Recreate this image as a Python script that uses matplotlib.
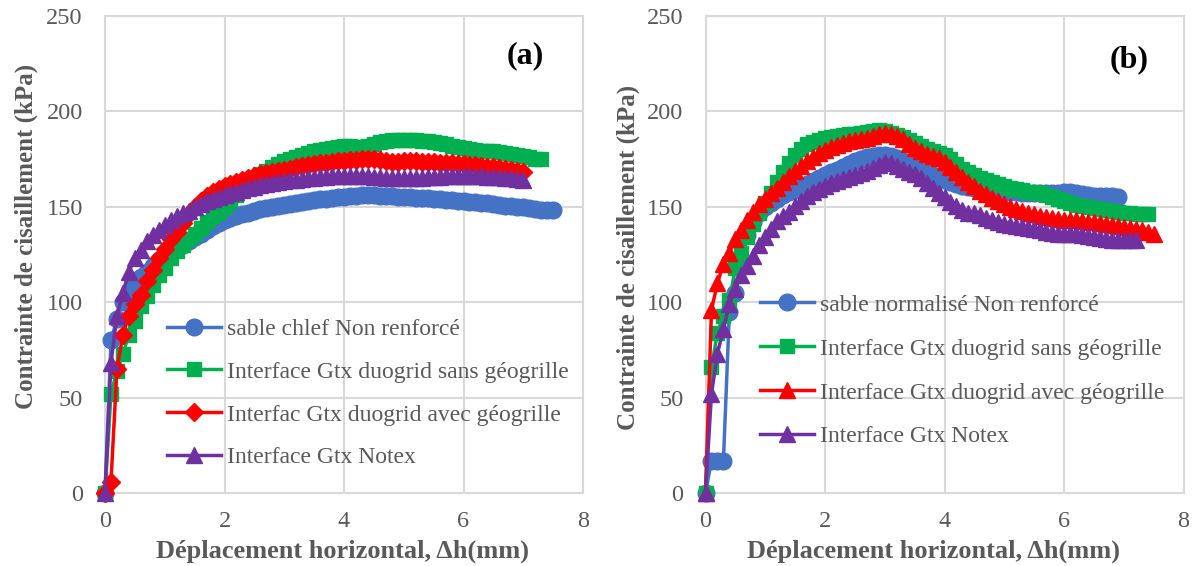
import numpy as np
import matplotlib
matplotlib.use("Agg")
import matplotlib.pyplot as plt

plt.rcParams['font.family'] = ['Liberation Serif', 'DejaVu Serif']

# ---------------- data: shear stress (kPa) vs horizontal displacement (mm), step 0.1 mm
STEP = 0.1

# (a) sable de Chlef
a_blue = [0, 80, 91, 100, 106, 110, 113, 116, 119, 122, 124, 126, 128, 130, 132, 134, 136, 138, 140, 141.5,
          143, 144, 145, 146, 147, 148, 149, 149.5, 150, 150.5, 151, 151.5, 152, 152.5, 153, 153.5, 154, 154,
          154.5, 155, 155, 155.5, 155.5, 156, 156, 156, 155.5, 155.5, 155.5, 155, 155, 155, 154.5, 154.5,
          154.5, 154, 154, 153.5, 153.5, 153, 153, 152.5, 152.5, 152, 152, 151.5, 151, 150.5, 150.5, 150,
          150, 149.5, 149, 148.5, 148.5, 148.5]
a_green = [0, 52, 64, 73, 83, 90, 98, 103, 109, 114, 118, 123, 127, 130, 133, 136, 139, 142, 145, 147.5,
           150, 153, 156, 159, 162, 165, 167, 169, 171, 172.5, 174, 175, 176, 177, 178, 179, 180, 180.5, 181,
           181.5, 182, 182, 181.5, 181.5, 182, 183, 184, 184.5, 185, 185, 185, 185, 185, 184.5, 184.5, 184,
           183.5, 183, 182, 181.5, 181, 180.5, 180, 179.5, 179, 179, 178.5, 178, 177.5, 177, 176.5, 176, 175,
           175]
a_red = [0, 6, 65, 83, 93, 99, 104, 111, 117, 123, 128, 133, 137, 141.5, 146, 150, 153, 155.5, 157.5, 159.5,
         161, 162, 163, 164, 165, 166, 167, 167.5, 168, 169, 169.5, 170, 171, 171.5, 172, 172.5, 173, 173,
         173.5, 174, 174, 174.5, 174.5, 175, 175, 175, 174.5, 174, 173.5, 173.5, 174, 174, 174, 173.5, 173.5,
         173.5, 173, 173, 173, 172.5, 172.5, 172, 172, 171.5, 171, 171, 170.5, 170, 169.5, 169, 168.5]
a_purple = [0, 68, 93, 105, 116, 123, 127.5, 132, 135, 138, 140.5, 143, 145, 146.5, 148, 150, 151.5, 153, 154,
            155, 156, 157, 158, 159, 160, 160.5, 161.5, 162, 162.5, 163, 163.5, 164, 164, 164.5, 165, 165,
            165.5, 165.5, 166, 166, 166, 166, 166, 166, 166, 165.5, 165.5, 165, 165, 165, 165, 165, 165, 165,
            165.5, 165.5, 165.5, 166, 166, 166, 166, 166, 166, 166, 165.5, 165.5, 165.5, 165, 165, 164.5, 164]

# (b) sable normalisé
b_blue = [0, 17, 17, 17, 95, 105, 120, 135, 142, 147, 150, 152, 154, 156, 157.5, 159, 160.5, 162, 163.5, 165,
          166.5, 168, 169.5, 171, 172.5, 174, 175, 176, 176.5, 177, 177, 176.5, 175.5, 174, 172.5, 171, 169.5,
          168, 166.5, 165, 164, 163, 162, 161, 160.5, 160, 159.5, 159, 158.5, 158, 158, 157.5, 157.5, 157, 157,
          157, 157, 157, 157, 157, 157.5, 157.5, 157, 156.5, 156, 155.5, 155.5, 155.5, 155.5, 155]
b_green = [0, 66, 84, 93, 101, 118, 126, 134, 141, 147, 152, 157, 163, 168, 173, 177, 180.5, 183, 184, 185,
           186, 186.5, 187, 187.5, 188, 188, 188.5, 189, 189.5, 190, 189.5, 188.5, 187.5, 186.5, 185, 183.5,
           182, 180.5, 179, 178, 177, 175, 172.5, 170, 168, 166.5, 165, 164, 163, 162, 161, 160, 159.5, 159,
           158, 157.5, 157, 156, 155, 154, 153, 152, 151, 150.5, 150, 149.5, 149, 148.5, 148, 147.5, 147,
           146.5, 146, 146, 146]
b_red = [0, 96, 110, 120, 126, 133, 138, 143, 147.5, 151.5, 154, 157, 160, 163, 166, 169, 171.5, 174, 176, 178,
         180, 181.5, 182.5, 183.5, 184.5, 185, 185.5, 186, 187, 188, 188.5, 188, 187, 185.5, 183, 181, 179,
         177.5, 176.5, 175.5, 173.5, 171, 168, 165.5, 163, 161, 158.5, 156.5, 154.5, 153, 151.5, 150, 149,
         148, 147, 146, 145, 144.5, 144, 143.5, 143, 143, 143, 142.5, 142, 142, 141.5, 141, 140.5, 140, 139.5,
         139, 138.5, 138, 137, 136]
b_purple = [0, 52, 73, 86, 99, 107, 114, 119, 124, 130, 134, 138.5, 142.5, 145, 147.5, 150.5, 153, 155.5,
            157.5, 159.5, 161, 162.5, 163.5, 164.5, 165.5, 166.5, 167.5, 169, 170.5, 172, 173.5, 173, 171.5,
            170, 168.5, 167, 165, 162.5, 160, 157, 155, 152.5, 150.5, 148.5, 147, 146.5, 145.5, 144, 143, 142,
            141, 140.5, 140, 139.5, 139, 138.5, 138, 137, 136.5, 136, 135.5, 135.5, 135.5, 135, 134.5, 134,
            133.5, 133, 132.5, 132.5, 132.5, 132.5, 132.5]

labels_a = ["sable chlef Non renforcé",
            "Interface Gtx duogrid sans géogrille",
            "Interfac Gtx duogrid avec géogrille",
            "Interface Gtx Notex"]
labels_b = ["sable normalisé Non renforcé",
            "Interface Gtx duogrid sans géogrille",
            "Interface Gtx duogrid avec géogrille",
            "Interface Gtx Notex"]

x_ticks = [0, 2, 4, 6, 8]
y_ticks = [0, 50, 100, 150, 200, 250]
xlabel = "Déplacement horizontal, Δh(mm)"
ylabel = "Contrainte de cisaillement (kPa)"

BLUE, GREEN, RED, PURPLE = "#4472C4", "#00B050", "#FF0000", "#7030A0"
GRID = "#D9D9D9"
TXT = "#595959"


def disp(values):
    return np.round(np.arange(len(values)) * STEP, 2)


fig = plt.figure(figsize=(11.98, 5.66), dpi=100)
ax_a = fig.add_axes([105 / 1198, 73 / 566, 478 / 1198, 477 / 566])
ax_b = fig.add_axes([705.5 / 1198, 73 / 566, 478 / 1198, 477 / 566])


def style(ax):
    ax.set_xlim(0, 8)
    ax.set_ylim(0, 250)
    ax.set_xticks(x_ticks)
    ax.set_yticks(y_ticks)
    ax.grid(True, color=GRID, lw=1.5, zorder=0)
    ax.set_axisbelow(True)
    for s in ax.spines.values():
        s.set_color(GRID)
        s.set_linewidth(1.5)
    ax.tick_params(length=0, labelsize=17.5, labelcolor=TXT)
    ax.tick_params(axis='x', pad=13)
    ax.tick_params(axis='y', pad=16)
    ax.set_xlabel(xlabel, fontsize=19, fontweight='bold', color=TXT)
    ax.set_ylabel(ylabel, fontsize=18, fontweight='bold', color=TXT)


def draw(ax, series, markers, sizes, labels):
    colors = [BLUE, GREEN, RED, PURPLE]
    for vals, c, m, ms, lab in zip(series, colors, markers, sizes, labels):
        ax.plot(disp(vals), vals, color=c, lw=2.5, marker=m, ms=ms, mec=c, mfc=c,
                label=lab, clip_on=False, zorder=3)


style(ax_a)
style(ax_b)

draw(ax_a, [a_blue, a_green, a_red, a_purple], ['o', 's', 'D', '^'], [12, 10.5, 9.5, 11.5], labels_a)
draw(ax_b, [b_blue, b_green, b_red, b_purple], ['o', 's', '^', '^'], [12, 10.5, 11.5, 11.5], labels_b)

leg_kw = dict(loc='upper left', frameon=False, fontsize=17, handlelength=2.3, handletextpad=0.25,
              borderpad=0, borderaxespad=0, numpoints=1, labelcolor=TXT)
ax_a.legend(bbox_to_anchor=(0.129, 0.366), labelspacing=0.9, **leg_kw)
ax_b.legend(bbox_to_anchor=(0.114, 0.417), labelspacing=0.95, **leg_kw)

ax_a.text(0.879, 0.916, "(a)", transform=ax_a.transAxes, fontsize=23, fontweight='bold',
          ha='center', va='center', color='black')
ax_b.text(0.886, 0.909, "(b)", transform=ax_b.transAxes, fontsize=23, fontweight='bold',
          ha='center', va='center', color='black')

ax_a.xaxis.set_label_coords(0.497, -0.097)
ax_b.xaxis.set_label_coords(0.478, -0.097)
ax_a.yaxis.set_label_coords(-0.140, 0.538)
ax_b.yaxis.set_label_coords(-0.137, 0.493)

fig.savefig("out.png", dpi=100)
